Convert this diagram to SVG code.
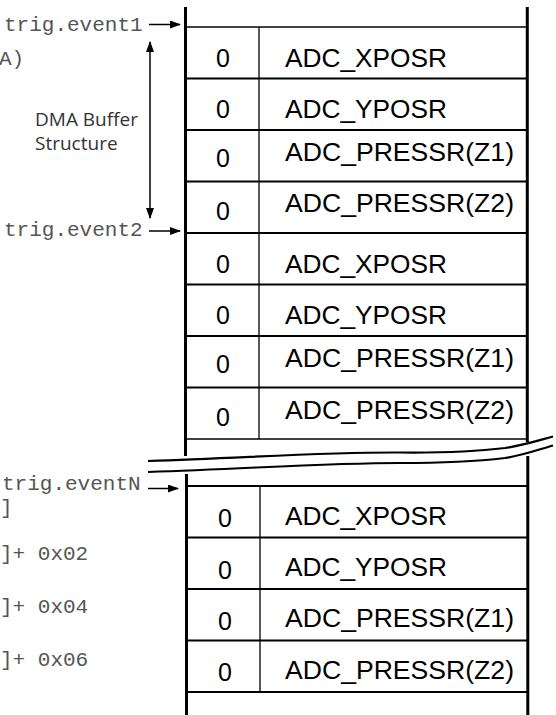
<svg xmlns="http://www.w3.org/2000/svg" width="556" height="715" viewBox="0 0 556 715">
<style>
.mono{font-family:"Liberation Mono","Courier New",monospace;font-size:21px;fill:#555}
.lbl{font-family:"Open Sans","Noto Sans",sans-serif;font-size:19px;fill:#333}
.zero{font-family:"Liberation Sans",Arial,sans-serif;font-size:25px;fill:#000;text-anchor:middle}
.reg{font-family:"Liberation Sans",Arial,sans-serif;font-size:25px;fill:#000}
.vline{stroke:#000;stroke-width:3;fill:none}
.hline{stroke:#000;stroke-width:2;fill:none}
.div{stroke:#222;stroke-width:1.5;fill:none}
.arr{stroke:#000;stroke-width:1.5;fill:none}
.wave{stroke:#000;stroke-width:2.2;fill:none}
</style>
<defs>
<marker id="ah" markerWidth="11" markerHeight="8" refX="10" refY="4" orient="auto" markerUnits="userSpaceOnUse">
<path d="M0,0 L11,4 L0,8 Z" fill="#000"/>
</marker>
<marker id="ahs" markerWidth="11" markerHeight="8" refX="1" refY="4" orient="auto" markerUnits="userSpaceOnUse">
<path d="M11,0 L0,4 L11,8 Z" fill="#000"/>
</marker>
</defs>
<rect width="556" height="715" fill="#fff"/>

<g id="labels">
<text class="mono" x="4" y="30.5">trig.event1</text>
<text class="mono" x="-1" y="65">A)</text>
<text class="mono" x="4" y="235.5">trig.event2</text>
<text class="mono" x="2" y="490">trig.eventN</text>
<text class="mono" x="0" y="514">]</text>
<text class="mono" x="0" y="560">]+ 0x02</text>
<text class="mono" x="0" y="613">]+ 0x04</text>
<text class="mono" x="0" y="666">]+ 0x06</text>
<text class="lbl" x="35" y="126">DMA Buffer</text>
<text class="lbl" x="35" y="150">Structure</text>
</g>

<g id="buffer-top">
<line class="vline" x1="185.5" y1="7" x2="185.5" y2="456"/>
<line class="vline" x1="527.3" y1="7" x2="527.3" y2="442"/>
<line class="hline" x1="185.5" y1="27" x2="527.3" y2="27" style="stroke-width:1.5"/>
<line class="div" x1="259" y1="27" x2="259" y2="439"/>
<line class="hline" x1="185.5" y1="78.5" x2="527.3" y2="78.5"/>
<line class="hline" x1="185.5" y1="130" x2="527.3" y2="130"/>
<line class="hline" x1="185.5" y1="181.5" x2="527.3" y2="181.5"/>
<line class="hline" x1="185.5" y1="233" x2="527.3" y2="233"/>
<line class="hline" x1="185.5" y1="284.5" x2="527.3" y2="284.5"/>
<line class="hline" x1="185.5" y1="336" x2="527.3" y2="336"/>
<line class="hline" x1="185.5" y1="387.5" x2="527.3" y2="387.5"/>
<line class="hline" x1="185.5" y1="439" x2="527.3" y2="439" style="stroke-width:1.5"/>
</g>

<g id="row1"><text class="zero" x="223" y="67">0</text><text class="reg" x="285" y="67" textLength="162" lengthAdjust="spacingAndGlyphs">ADC_XPOSR</text></g>
<g id="row2"><text class="zero" x="223" y="117.5">0</text><text class="reg" x="285" y="117.5" textLength="162" lengthAdjust="spacingAndGlyphs">ADC_YPOSR</text></g>
<g id="row3"><text class="zero" x="223" y="167">0</text><text class="reg" x="285" y="160.5" textLength="229" lengthAdjust="spacingAndGlyphs">ADC_PRESSR(Z1)</text></g>
<g id="row4"><text class="zero" x="223" y="219.5">0</text><text class="reg" x="285" y="212" textLength="229" lengthAdjust="spacingAndGlyphs">ADC_PRESSR(Z2)</text></g>
<g id="row5"><text class="zero" x="223" y="273">0</text><text class="reg" x="285" y="273" textLength="162" lengthAdjust="spacingAndGlyphs">ADC_XPOSR</text></g>
<g id="row6"><text class="zero" x="223" y="323.5">0</text><text class="reg" x="285" y="323.5" textLength="162" lengthAdjust="spacingAndGlyphs">ADC_YPOSR</text></g>
<g id="row7"><text class="zero" x="223" y="373">0</text><text class="reg" x="285" y="367" textLength="229" lengthAdjust="spacingAndGlyphs">ADC_PRESSR(Z1)</text></g>
<g id="row8"><text class="zero" x="223" y="425.5">0</text><text class="reg" x="285" y="418.5" textLength="229" lengthAdjust="spacingAndGlyphs">ADC_PRESSR(Z2)</text></g>

<g id="break">
<path d="M148,461 C260,457 330,452 400,452.5 C450,453 480,451 505,448 C525,445 540,440 553,436.5 L553,445.5 C540,449 525,455 505,458 C480,461 450,463 400,463 C330,463 260,468 148,472 Z" fill="#fff"/>
<path class="wave" d="M148,461 C260,457 330,452 400,452.5 C450,453 480,451 505,448 C525,445 540,440 553,436.5"/>
<path class="wave" d="M148,472 C260,468 330,463 400,463 C450,463 480,461 505,458 C525,455 540,449 553,445.5"/>
</g>

<g id="buffer-bottom">
<line class="vline" x1="186.5" y1="474" x2="186.5" y2="715"/>
<line class="vline" x1="527.8" y1="456" x2="527.8" y2="715"/>
<line class="hline" x1="186.5" y1="486" x2="528" y2="486"/>
<line class="div" x1="260" y1="486" x2="260" y2="692"/>
<line class="hline" x1="186.5" y1="537.5" x2="528" y2="537.5"/>
<line class="hline" x1="186.5" y1="589" x2="528" y2="589"/>
<line class="hline" x1="186.5" y1="640.5" x2="528" y2="640.5"/>
<line class="hline" x1="186.5" y1="692" x2="528" y2="692"/>
</g>

<g id="rowN1"><text class="zero" x="225" y="526.5">0</text><text class="reg" x="285" y="525" textLength="162" lengthAdjust="spacingAndGlyphs">ADC_XPOSR</text></g>
<g id="rowN2"><text class="zero" x="225" y="578.5">0</text><text class="reg" x="285" y="576" textLength="162" lengthAdjust="spacingAndGlyphs">ADC_YPOSR</text></g>
<g id="rowN3"><text class="zero" x="225" y="630">0</text><text class="reg" x="285" y="627" textLength="229" lengthAdjust="spacingAndGlyphs">ADC_PRESSR(Z1)</text></g>
<g id="rowN4"><text class="zero" x="225" y="681">0</text><text class="reg" x="285" y="678.5" textLength="229" lengthAdjust="spacingAndGlyphs">ADC_PRESSR(Z2)</text></g>

<g id="connectors">
<line class="arr" x1="149" y1="24.5" x2="180" y2="24.5" marker-end="url(#ah)"/>
<line class="arr" x1="149" y1="231" x2="180" y2="231" marker-end="url(#ah)"/>
<line class="arr" x1="148" y1="488.5" x2="178" y2="488.5" marker-end="url(#ah)"/>
<line class="arr" x1="150" y1="42" x2="150" y2="218" marker-start="url(#ahs)" marker-end="url(#ah)"/>
</g>
</svg>
